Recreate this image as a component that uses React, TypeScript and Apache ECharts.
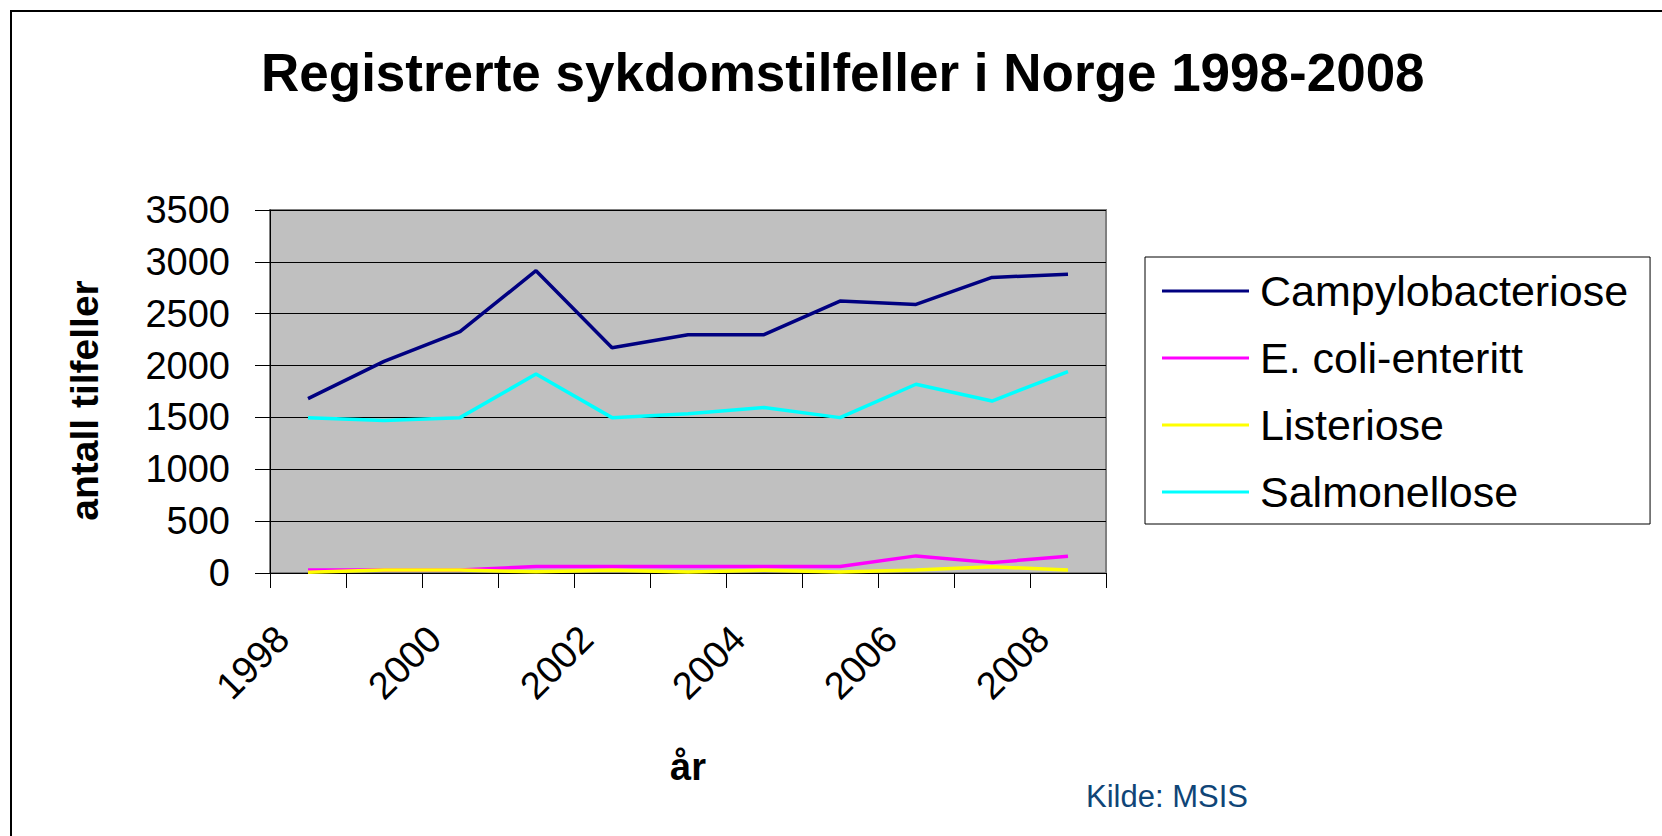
import React, { useEffect, useRef } from "react";
import * as echarts from "echarts";

const years = ["1998", "1999", "2000", "2001", "2002", "2003", "2004", "2005", "2006", "2007", "2008"];
const campylobacteriose = [1682, 2040, 2327, 2915, 2171, 2298, 2298, 2622, 2590, 2850, 2880];
const ecoli = [28, 30, 30, 62, 62, 62, 62, 62, 165, 100, 162];
const listeriose = [8, 28, 28, 12, 26, 10, 26, 10, 30, 60, 28];
const salmonellose = [1498, 1470, 1498, 1918, 1498, 1535, 1595, 1498, 1820, 1658, 1942];
const yTicks = { min: 0, max: 3500, interval: 500 };

const seriesDefs = [
  { name: "Campylobacteriose", data: campylobacteriose, color: "#000080" },
  { name: "E. coli-enteritt", data: ecoli, color: "#ff00ff" },
  { name: "Listeriose", data: listeriose, color: "#ffff00" },
  { name: "Salmonellose", data: salmonellose, color: "#00ffff" },
];

const FONT = "'Liberation Sans', Arial, sans-serif";

export default function App() {
  const ref = useRef<HTMLDivElement>(null);
  useEffect(() => {
    if (!ref.current) return;
    const chart = echarts.init(ref.current, null, { renderer: "svg" });
    chart.setOption({
      animation: false,
      backgroundColor: "#ffffff",
      textStyle: { fontFamily: FONT },
      title: {
        text: "Registrerte sykdomstilfeller i Norge 1998-2008",
        left: 261,
        top: 46,
        padding: 0,
        textStyle: { fontFamily: FONT, fontSize: 53, fontWeight: "bold", color: "#000" },
      },
      legend: {
        orient: "vertical",
        left: 1145,
        top: 257,
        padding: [10, 22, 8, 17],
        itemGap: 19,
        itemWidth: 87,
        itemHeight: 3,
        icon: "rect",
        borderColor: "#000",
        borderWidth: 1,
        backgroundColor: "#fff",
        borderRadius: 0,
        textStyle: { fontFamily: FONT, fontSize: 43, color: "#000", lineHeight: 48, padding: [0, 0, 0, 6] },
        data: seriesDefs.map((s) => s.name),
      },
      grid: {
        left: 270,
        top: 210,
        right: 556,
        bottom: 263,
        show: true,
        backgroundColor: "#c0c0c0",
        borderColor: "#808080",
        borderWidth: 2,
      },
      xAxis: {
        type: "category",
        data: years,
        boundaryGap: true,
        name: "år",
        nameLocation: "middle",
        nameGap: 175,
        nameTextStyle: { fontFamily: FONT, fontSize: 38, fontWeight: "bold", color: "#000" },
        axisLine: { show: true, lineStyle: { color: "#000", width: 1 } },
        axisTick: { show: true, interval: 0, length: 15, lineStyle: { color: "#000" } },
        axisLabel: {
          interval: 1,
          rotate: 45,
          margin: 34,
          padding: [0, 36, 0, 0],
          fontFamily: FONT,
          fontSize: 38,
          color: "#000",
        },
        splitLine: { show: false },
      },
      yAxis: {
        type: "value",
        min: yTicks.min,
        max: yTicks.max,
        interval: yTicks.interval,
        name: "antall tilfeller",
        nameLocation: "middle",
        nameGap: 166,
        nameRotate: 90,
        nameTextStyle: {
          fontFamily: FONT,
          fontSize: 39,
          fontWeight: "bold",
          color: "#000",
          padding: [0, 18, 0, 0],
        },
        axisLine: { show: true, lineStyle: { color: "#000", width: 1 } },
        axisTick: { show: true, length: 15, lineStyle: { color: "#000" } },
        axisLabel: {
          margin: 40,
          fontFamily: FONT,
          fontSize: 38,
          color: "#000",
          formatter: (v: number) => String(v),
        },
        splitLine: { show: true, lineStyle: { color: "#000", width: 1 } },
      },
      series: seriesDefs.map((s) => ({
        name: s.name,
        type: "line",
        data: s.data,
        showSymbol: false,
        symbol: "none",
        color: s.color,
        lineStyle: { color: s.color, width: 3.5 },
      })),
      graphic: [
        {
          type: "rect",
          shape: { x: 11, y: 11, width: 1700, height: 900 },
          style: { fill: "none", stroke: "#000", lineWidth: 2 },
          silent: true,
        },
        {
          type: "text",
          x: 1086,
          y: 796,
          style: {
            text: "Kilde: MSIS",
            fontFamily: FONT,
            fontSize: 31,
            fill: "#0f4577",
            verticalAlign: "middle",
          },
        },
      ],
    });
    return () => chart.dispose();
  }, []);
  return (
    <div
      ref={ref}
      style={{ position: "absolute", left: 0, top: 0, width: 1662, height: 836 }}
    />
  );
}
